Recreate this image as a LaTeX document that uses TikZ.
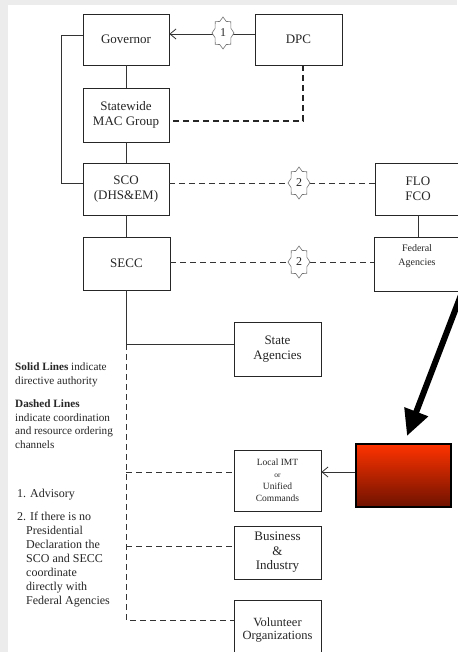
\documentclass[tikz,border=0pt]{standalone}
\usepackage{fontspec}
\setmainfont{Liberation Serif}
\usetikzlibrary{arrows.meta,calc}
\definecolor{redtop}{RGB}{255,51,0}
\definecolor{redbot}{RGB}{110,18,0}
\definecolor{pagebg}{RGB}{236,236,236}
\newcommand\mkseal[3]{%
  \coordinate (#1) at #2;
  \begin{scope}[shift={(#1)}]
    \draw[seal] (0,-16)
      \foreach \k [evaluate=\k as \rx using {mod(\k,2)==0?11:8.5},
                   evaluate=\k as \ry using {mod(\k,2)==0?16:12.5}] in {1,...,15}
      { -- ({\rx*cos(90+22.5*\k)},{-\ry*sin(90+22.5*\k)}) } -- cycle;
  \end{scope}
  \node[sealnum] (#1n) at (#1) {#3};}
\newcommand\hang{\hspace*{9pt}}
\begin{document}
\begin{tikzpicture}[x=1pt,y=-1pt,
  box/.style={draw=black!85,line width=0.8pt,fill=white,align=center,inner sep=0pt,
    text=black!85,font=\fontsize{13}{14.5}\selectfont},
  conn/.style={draw=black!80,line width=0.8pt},
  dconn/.style={conn,dash pattern=on 6pt off 4pt},
  ddash/.style={draw=black!85,line width=1.8pt,dash pattern=on 6pt off 4pt},
  seal/.style={draw=black!55,fill=white,line width=0.6pt},
  sealnum/.style={font=\fontsize{12}{12}\selectfont,inner sep=0pt,text=black!85},
  tipb/.style={-{Straight Barb[length=6pt,width=10pt]}},
  legendtxt/.style={anchor=north west,align=left,inner sep=0pt,text=black!85}
]
\fill[pagebg] (0,0) rectangle (457,652);
\fill[white] (8,5) rectangle (457,652);
\useasboundingbox (0,0) rectangle (457,652);

% boxes
\node[box,minimum width=86pt,minimum height=51pt] (gov) at (126,39.5) {Governor};
\node[box,minimum width=87pt,minimum height=51pt] (dpc) at (298.5,39.5) {DPC};
\node[box,minimum width=86pt,minimum height=54pt] (mac) at (126,115) {Statewide\\MAC Group};
\node[box,minimum width=86pt,minimum height=52pt] (sco) at (126,189) {SCO\\(DHS\&EM)};
\node[box,minimum width=86pt,minimum height=52pt] (flo) at (418,189) {FLO\\FCO};
\node[box,minimum width=87pt,minimum height=53pt] (secc) at (126.5,263.5) {SECC};
\node[box,minimum width=88pt,minimum height=54pt] (fed) at (418,264) {};
\node[font=\fontsize{10}{14}\selectfont,align=center,text=black!85,inner sep=0pt] (fedtxt) at (417,256) {Federal\\Agencies};
\node[box,minimum width=87pt,minimum height=54pt] (state) at (277.5,349) {State\\Agencies};
\node[box,minimum width=87pt,minimum height=61pt,font=\fontsize{9.5}{12}\selectfont] (imt) at (277.5,480.5)
  {Local IMT\\{\fontsize{7.5}{12}\selectfont or}\\Unified\\Commands};
\node[box,minimum width=87pt,minimum height=53pt] (bus) at (277.5,552.5) {Business\\\&\\Industry};
\node[box,minimum width=87pt,minimum height=60pt,font=\fontsize{12.5}{13.5}\selectfont] (vol) at (277.5,630)
  {Volunteer\\Organizations};
\node[draw=black,line width=2pt,top color=redtop,bottom color=redbot,
  minimum width=95pt,minimum height=63pt,inner sep=0pt] (red) at (403.5,475.5) {};

% solid connectors
\draw[conn] (gov.south) -- (mac.north);
\draw[conn] (mac.south) -- (sco.north);
\draw[conn] (sco.south) -- (sco.south |- secc.north);
\draw[conn] (flo.south) -- (fed.north);
\draw[conn] ([yshift=4.5pt]gov.west) -- ++(-21,0) |- ([yshift=6pt]sco.west);
\draw[conn,tipb] ([yshift=5.5pt]dpc.west) -- ([yshift=5.5pt]dpc.west -| gov.east);
\coordinate (j) at (126,344);
\draw[conn] (sco.south |- secc.south) -- (j) -- (j -| state.west);
\draw[conn,tipb] ([yshift=3.5pt]red.west) -- ([yshift=3.5pt]red.west -| imt.east);

% dashed connectors
\draw[ddash] ([xshift=4.5pt]dpc.south) |- ([yshift=-6pt]mac.east);
\draw[dconn] ([yshift=6pt]sco.east) -- ([yshift=6pt]sco.east -| flo.west);
\draw[dconn] ([yshift=1.5pt]secc.east) -- ([yshift=1.5pt]secc.east -| fed.west);
\draw[dconn] (j) |- ([yshift=10pt]vol.west);
\draw[dconn] ([yshift=8.5pt]imt.west -| j) -- ([yshift=8.5pt]imt.west);
\draw[dconn] ([yshift=6.5pt]bus.west -| j) -- ([yshift=6.5pt]bus.west);

% big arrow
\draw[line width=6pt,-{Triangle[length=26pt,width=24pt]}] (fed.south east) -- ([xshift=3.5pt,yshift=7pt]red.north);

% seals
\mkseal{s1}{(223,33)}{1}
\mkseal{s2}{(299,183)}{2}
\mkseal{s3}{(299,262)}{2}

% legend
\node[legendtxt,font=\fontsize{11.2}{13.5}\selectfont] (legend) at (15,363)
  {\textbf{Solid Lines} indicate\\directive authority\\[10pt]\textbf{Dashed Lines}\\indicate coordination\\and resource ordering\\channels};
\node[legendtxt,font=\fontsize{12}{14}\selectfont] (notes) at (17,489)
  {1. Advisory\\[9pt]2. If there is no\\\hang Presidential\\\hang Declaration the\\\hang SCO and SECC\\\hang coordinate\\\hang directly with\\\hang Federal Agencies};
\end{tikzpicture}
\end{document}
